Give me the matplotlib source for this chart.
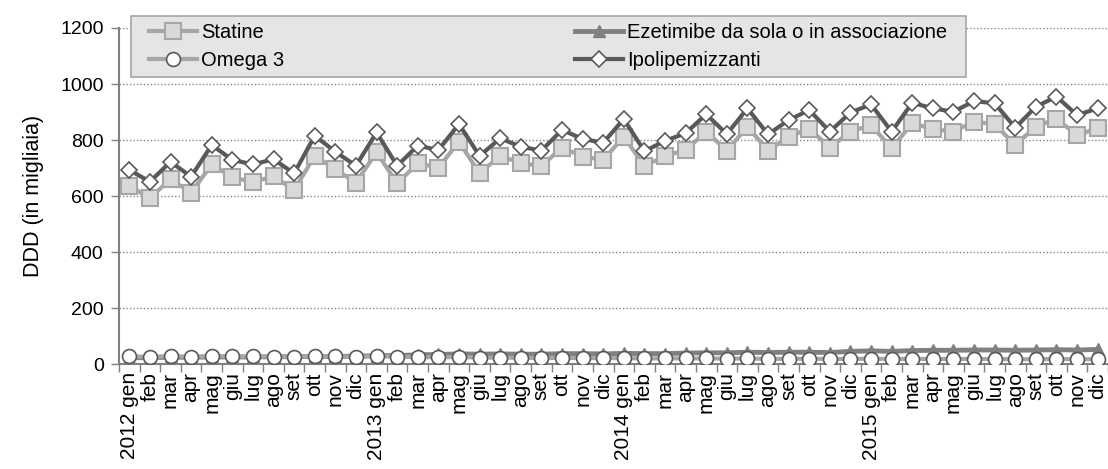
import matplotlib
matplotlib.use("Agg")
import matplotlib.pyplot as plt
import matplotlib.patches as mpatches
from matplotlib.ticker import FixedLocator, NullFormatter
import numpy as np

plt.rcParams["font.family"] = ["Liberation Sans", "DejaVu Sans"]

# mesi (etichette asse x)
months = ["gen", "feb", "mar", "apr", "mag", "giu",
          "lug", "ago", "set", "ott", "nov", "dic"]
years = ["2012", "2013", "2014", "2015"]

# DDD in migliaia
statine = [636, 593, 660, 612, 713, 667, 649, 671, 621, 744, 695, 648,
           756, 645, 717, 701, 794, 681, 744, 717, 707, 773, 741, 729,
           812, 707, 743, 764, 830, 762, 848, 762, 812, 841, 773, 830,
           853, 770, 860, 839, 830, 866, 856, 782, 848, 876, 817, 843]
ezetimibe = [22, 23, 24, 24, 25, 25, 25, 26, 26, 27, 27, 28,
             30, 30, 33, 34, 36, 35, 36, 35, 35, 37, 37, 36,
             38, 37, 37, 39, 40, 40, 42, 41, 42, 42, 41, 45,
             47, 45, 48, 49, 49, 50, 50, 49, 50, 51, 50, 52]
omega3 = [27, 26, 28, 26, 28, 27, 27, 26, 26, 28, 27, 26,
          28, 26, 25, 24, 25, 23, 23, 22, 22, 22, 21, 21,
          21, 20, 20, 20, 20, 19, 20, 18, 19, 19, 18, 18,
          19, 18, 18, 18, 18, 18, 18, 17, 17, 18, 17, 17]
ipolipemizzanti = [693, 651, 722, 669, 782, 729, 713, 731, 681, 815, 758, 708,
                   827, 708, 780, 764, 857, 743, 806, 776, 762, 836, 804, 790,
                   875, 760, 797, 824, 892, 821, 913, 820, 871, 907, 830, 898,
                   927, 830, 933, 913, 901, 939, 931, 844, 919, 955, 889, 913]

labels = []
for y in years:
    for m in months:
        labels.append(f"{y} {m}" if m == "gen" else m)

x = np.arange(len(labels))

W, H = 1108, 469
fig = plt.figure(figsize=(W / 100, H / 100), dpi=100)
ax = fig.add_axes([119 / W, 1 - 364 / H, 1 - 119 / W, 336 / H])

light = "#a6a6a6"
dark = "#595959"
mid = "#808080"

l1, = ax.plot(x, statine, color=light, lw=3, marker="s", ms=11.5,
              mfc="#d9d9d9", mec=light, mew=1.5, label="Statine", zorder=3)
l2, = ax.plot(x, ezetimibe, color=mid, lw=3.5, marker="^", ms=8,
              mfc=mid, mec=mid, label="Ezetimibe da sola o in associazione", zorder=3)
l3, = ax.plot(x, omega3, color=light, lw=3, marker="o", ms=10,
              mfc="white", mec=dark, mew=1.2, label="Omega 3", zorder=4)
l4, = ax.plot(x, ipolipemizzanti, color=dark, lw=3, marker="D", ms=8.5,
              mfc="white", mec=dark, mew=1.2, label="Ipolipemizzanti", zorder=5)

ax.set_xlim(-0.5, len(labels) - 0.5)
ax.set_ylim(0, 1200)
ax.set_yticks(np.arange(0, 1201, 200))
ax.yaxis.grid(True, linestyle=(0, (1, 1.5)), color="#868686", lw=1)
ax.set_axisbelow(True)

ax.set_xticks(x)
ax.set_xticklabels(labels, rotation=90, va="top", ha="center", fontsize=15)
ax.tick_params(axis="x", which="major", length=0, pad=6)
ax.xaxis.set_minor_locator(FixedLocator(np.arange(-0.5, len(labels), 1)))
ax.xaxis.set_minor_formatter(NullFormatter())
ax.tick_params(axis="x", which="minor", length=6, color=mid, width=1)
ax.tick_params(axis="y", length=6, color=mid, width=1, labelsize=14, pad=5)

for s in ["top", "right"]:
    ax.spines[s].set_visible(False)
for s in ["left", "bottom"]:
    ax.spines[s].set_color(mid)
    ax.spines[s].set_linewidth(1.5)

ax.set_ylabel("DDD (in migliaia)", fontsize=15.5, labelpad=12)

# riquadro della legenda (sfondo grigio) disegnato a parte
box = mpatches.Rectangle((131 / W, 1 - 77 / H), (966 - 131) / W, 61 / H,
                         transform=fig.transFigure, facecolor="#e5e5e5",
                         edgecolor=light, lw=1.2, zorder=10)
fig.patches.append(box)

leg = fig.legend(handles=[l1, l3, l2, l4], ncol=2, mode="expand",
                 loc="center", bbox_to_anchor=(149 / W, 1 - 77 / H, (947 - 149) / W, 61 / H),
                 fontsize=14.5, handlelength=2.4, frameon=False,
                 borderaxespad=0, borderpad=0, labelspacing=0.45,
                 handletextpad=0.2)
leg.set_zorder(11)

fig.savefig("out.png", dpi=100)
